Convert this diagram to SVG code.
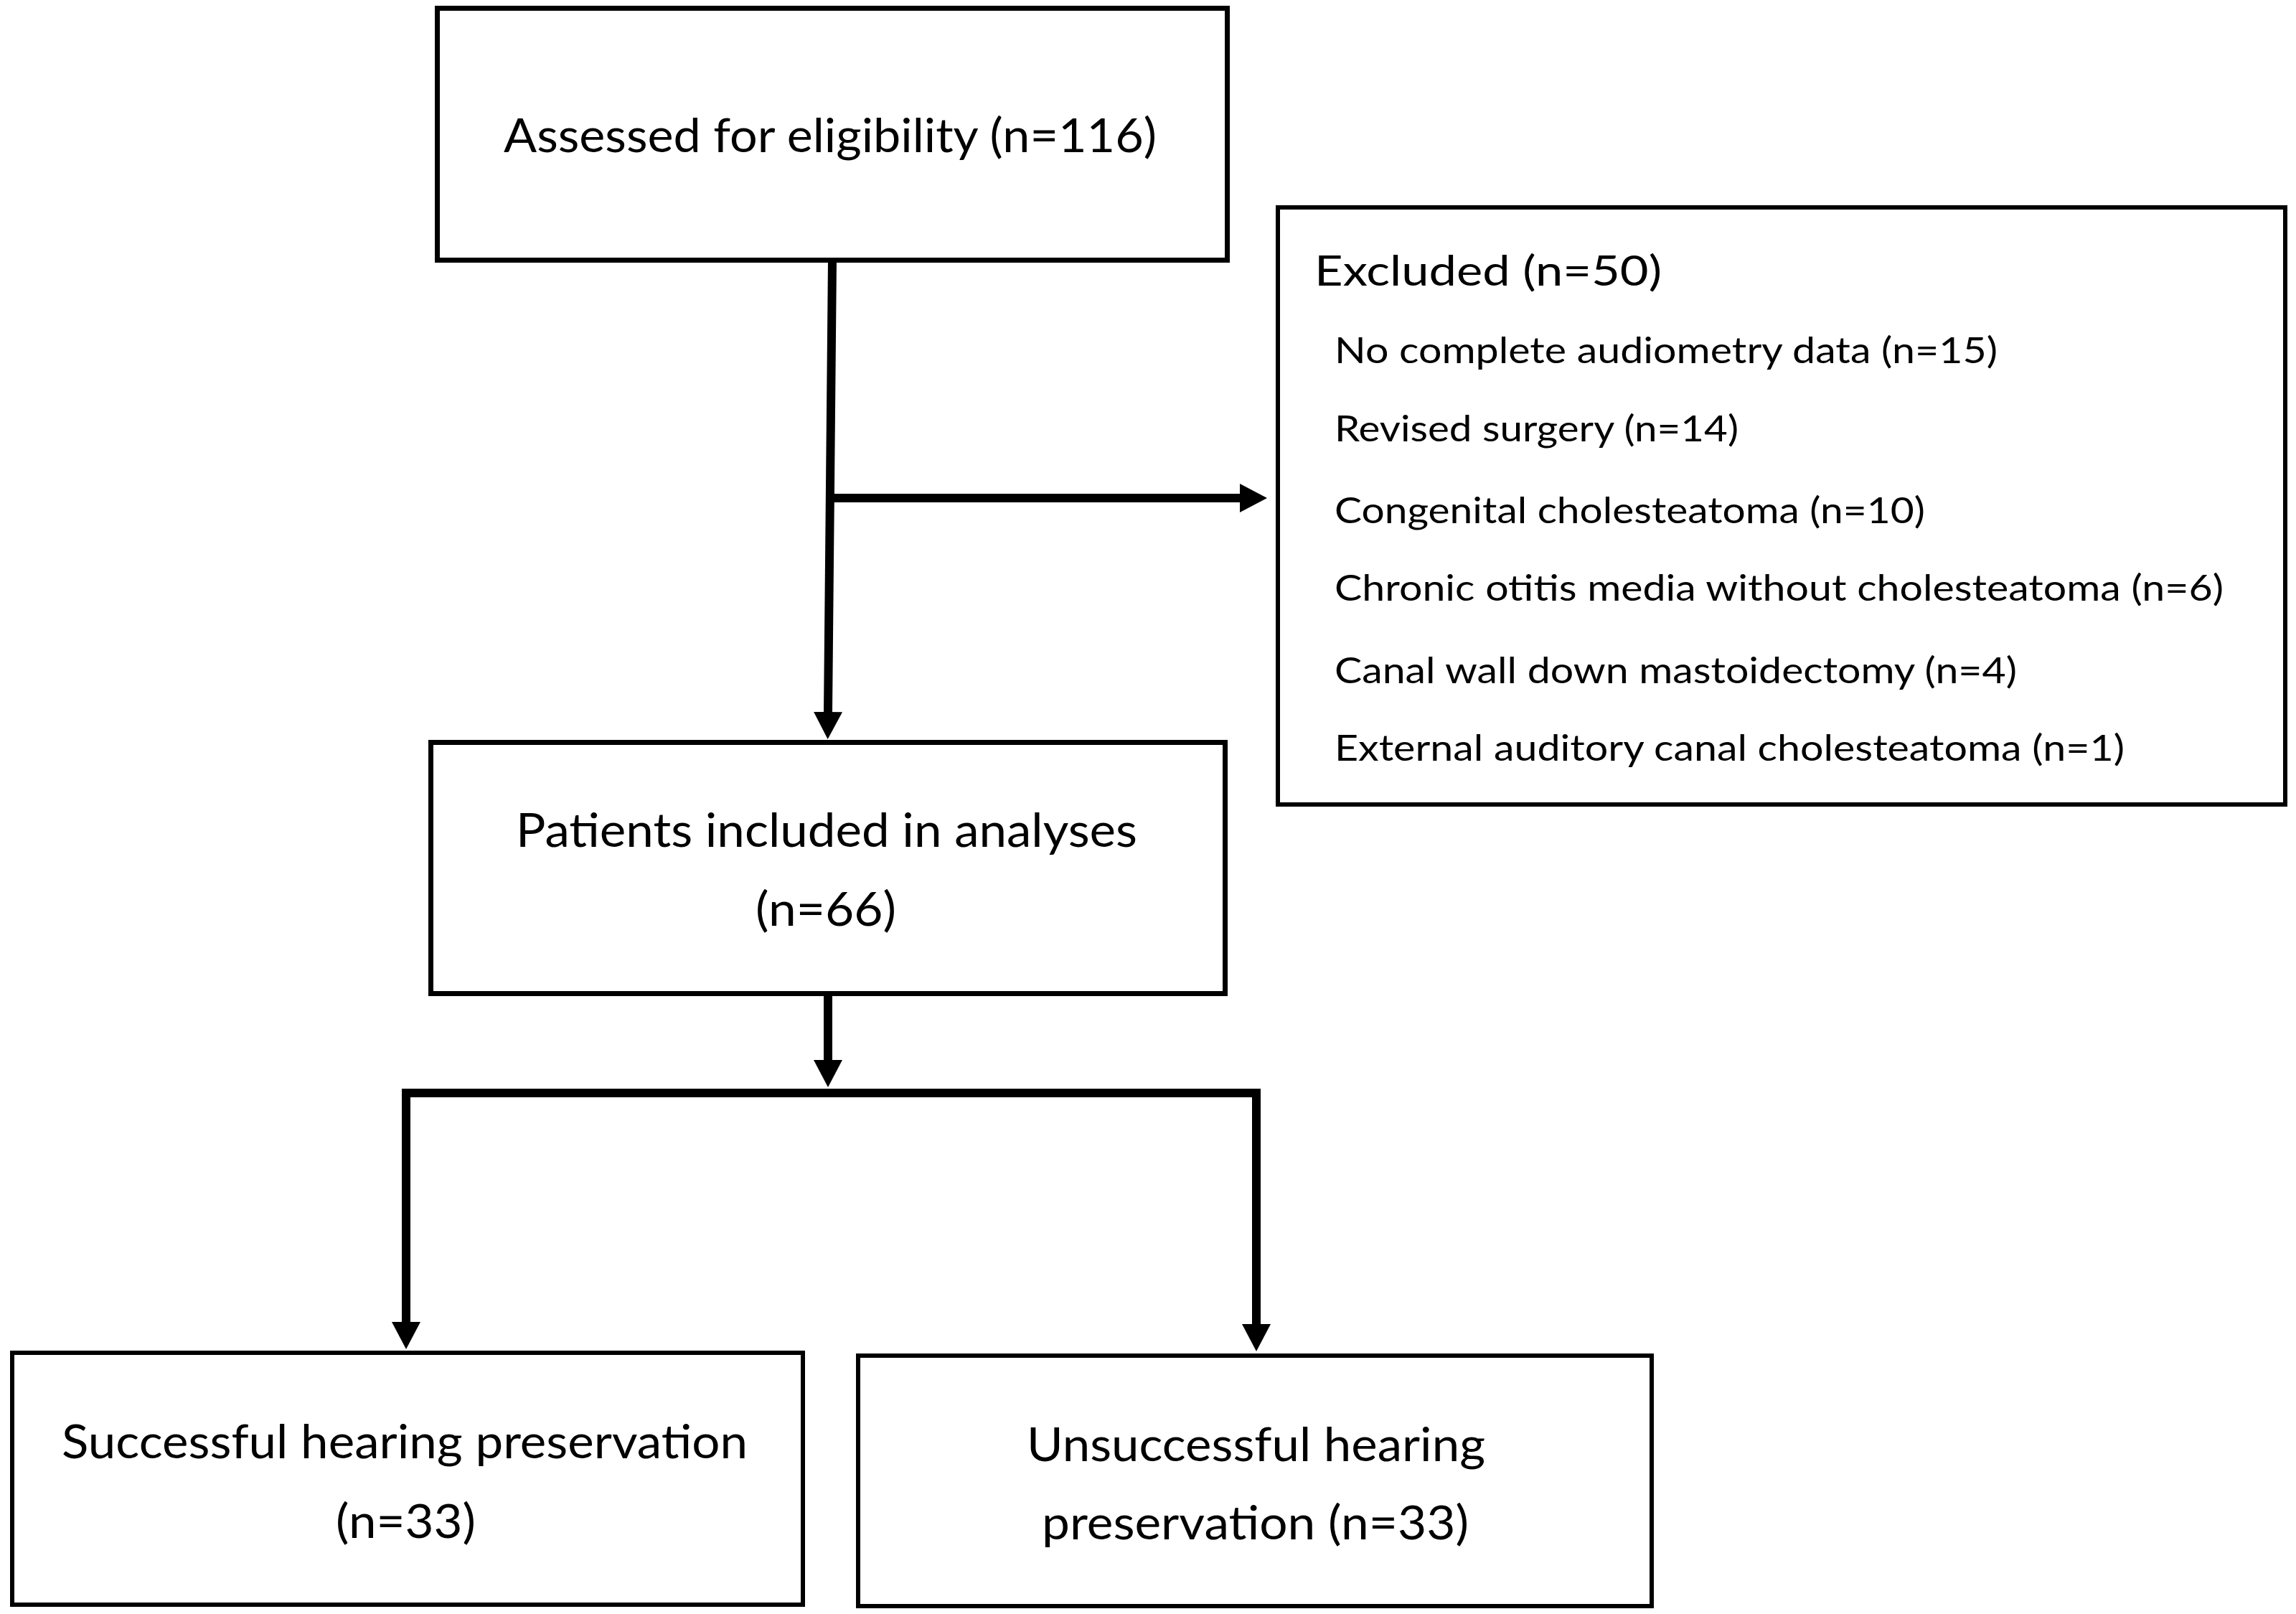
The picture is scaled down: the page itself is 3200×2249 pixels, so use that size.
<svg xmlns="http://www.w3.org/2000/svg" width="3200" height="2249" viewBox="0 0 3200 2249">
<style>
.box{fill:#ffffff;stroke:#000000;stroke-width:7}
.conn{fill:none;stroke:#000000;stroke-width:12;stroke-linejoin:miter;stroke-linecap:butt}
.t{font-family:Lato,"Open Sans","Liberation Sans",sans-serif;fill:#000000;font-size:66px}
.h{font-size:58px}
.s{font-size:50px}
</style>
<defs>
<marker id="ah" markerUnits="userSpaceOnUse" viewBox="0 -20 38 40" markerWidth="38" markerHeight="40" refX="1" refY="0" orient="auto">
<path d="M0,-20 L38,0 L0,20 Z" fill="#000000"/>
</marker>
</defs>
<rect x="0" y="0" width="3200" height="2249" fill="#ffffff"/>
<g id="connectors">
<path class="conn" d="M1160,363 L1154,993" marker-end="url(#ah)"/>
<path class="conn" d="M1157,694 L1729,694" marker-end="url(#ah)"/>
<path class="conn" d="M1154,1388 L1154,1478" marker-end="url(#ah)"/>
<path class="conn" d="M1160,1523 L566,1523 L566,1843" marker-end="url(#ah)"/>
<path class="conn" d="M1150,1523 L1751,1523 L1751,1846" marker-end="url(#ah)"/>
</g>
<g id="assessed">
<rect class="box" x="609.5" y="11.5" width="1101" height="351"/>
<text class="t" x="702" y="212" textLength="910" lengthAdjust="spacingAndGlyphs">Assessed for eligibility (n=116)</text>
</g>
<g id="excluded">
<rect class="box" x="1781" y="289" width="1404" height="832" style="stroke-width:6"/>
<text class="t h" x="1832" y="398" textLength="484" lengthAdjust="spacingAndGlyphs">Excluded (n=50)</text>
<text class="t s" x="1860" y="506" textLength="924" lengthAdjust="spacingAndGlyphs">No complete audiometry data (n=15)</text>
<text class="t s" x="1860" y="615" textLength="563" lengthAdjust="spacingAndGlyphs">Revised surgery (n=14)</text>
<text class="t s" x="1860" y="729" textLength="823" lengthAdjust="spacingAndGlyphs">Congenital cholesteatoma (n=10)</text>
<text class="t s" x="1860" y="837" textLength="1239" lengthAdjust="spacingAndGlyphs">Chronic otitis media without cholesteatoma (n=6)</text>
<text class="t s" x="1860" y="952" textLength="951" lengthAdjust="spacingAndGlyphs">Canal wall down mastoidectomy (n=4)</text>
<text class="t s" x="1860" y="1060" textLength="1101" lengthAdjust="spacingAndGlyphs">External auditory canal cholesteatoma (n=1)</text>
</g>
<g id="included">
<rect class="box" x="600.5" y="1034.5" width="1107" height="350"/>
<text class="t" x="719" y="1180" textLength="866" lengthAdjust="spacingAndGlyphs">Patients included in analyses</text>
<text class="t" x="1053" y="1290" textLength="196" lengthAdjust="spacingAndGlyphs">(n=66)</text>
</g>
<g id="successful">
<rect class="box" x="17" y="1885" width="1102" height="351" style="stroke-width:6"/>
<text class="t" x="86" y="2032" textLength="956" lengthAdjust="spacingAndGlyphs">Successful hearing preservation</text>
<text class="t" x="468" y="2143" textLength="195" lengthAdjust="spacingAndGlyphs">(n=33)</text>
</g>
<g id="unsuccessful">
<rect class="box" x="1196" y="1889" width="1106" height="349" style="stroke-width:6"/>
<text class="t" x="1431" y="2036" textLength="639" lengthAdjust="spacingAndGlyphs">Unsuccessful hearing</text>
<text class="t" x="1452" y="2145" textLength="595" lengthAdjust="spacingAndGlyphs">preservation (n=33)</text>
</g>
</svg>
